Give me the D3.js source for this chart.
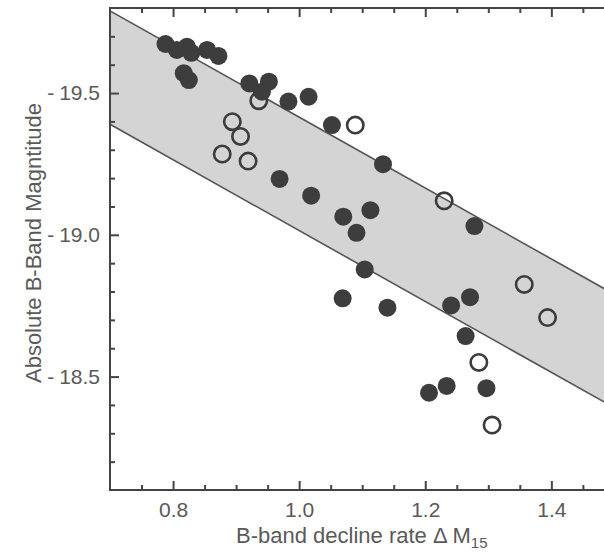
<!DOCTYPE html>
<html>
<head>
<meta charset="utf-8">
<script src="https://cdn.jsdelivr.net/npm/d3@7"></script>
<style>
  html, body { margin: 0; padding: 0; background: #fff; }
  svg { display: block; }
  text { font-family: "Liberation Sans", Arial, Helvetica, sans-serif; }
</style>
</head>
<body>
<script>
// ---- data ----
const filledX = [0.788, 0.806, 0.822, 0.829, 0.854, 0.872, 0.817, 0.825, 0.921, 0.952, 0.941,
                 0.983, 1.015, 1.052, 1.133, 0.969, 1.019, 1.070, 1.113, 1.091, 1.104, 1.069,
                 1.140, 1.278, 1.271, 1.241, 1.264, 1.206, 1.234, 1.297];
const filledY = [-19.673, -19.652, -19.663, -19.642, -19.652, -19.631, -19.570, -19.546, -19.534, -19.540, -19.505,
                 -19.470, -19.487, -19.387, -19.249, -19.197, -19.138, -19.064, -19.087, -19.007, -18.878, -18.776,
                 -18.743, -19.031, -18.780, -18.751, -18.643, -18.443, -18.467, -18.459];
const openX = [0.936, 1.089, 0.894, 0.907, 0.878, 0.919, 1.230, 1.357, 1.394, 1.285, 1.306];
const openY = [-19.473, -19.387, -19.399, -19.347, -19.285, -19.260, -19.120, -18.825, -18.708, -18.550, -18.329];

const bandX = [0.7, 1.5];
const bandUpper = [-19.79, -18.79];
const bandLower = [-19.39, -18.39];

const xMajorTicks = [0.8, 1.0, 1.2, 1.4];
const xTickLabels = ["0.8", "1.0", "1.2", "1.4"];
const xMinorTicks = [0.75, 0.85, 0.9, 0.95, 1.05, 1.1, 1.15, 1.25, 1.3, 1.35, 1.45];
const yMajorTicks = [-19.5, -19.0, -18.5];
const yTickLabels = ["-19.5", "-19.0", "-18.5"];
const yMinorTicks = [-19.7, -19.6, -19.4, -19.3, -19.2, -19.1, -18.9, -18.8, -18.7, -18.6, -18.4, -18.3, -18.2];

const xTitle = "B-band decline rate \u0394 M";
const xTitleSub = "15";
const yTitle = "Absolute B-Band Magntitude";

// ---- layout ----
const W = 604, H = 554;
const x = d3.scaleLinear().domain([0.7, 1.5]).range([110, 614.4]);
const y = d3.scaleLinear().domain([-19.8, -18.1]).range([8, 490]);

const svg = d3.select("body").append("svg").attr("width", W).attr("height", H);

svg.append("defs").append("clipPath").attr("id", "plotclip")
  .append("rect").attr("x", 110).attr("y", 8).attr("width", 504.4).attr("height", 482);

const plot = svg.append("g").attr("clip-path", "url(#plotclip)");

// band
const bandData = bandX.map((v, i) => ({x: v, hi: bandUpper[i], lo: bandLower[i]}));
plot.append("path").datum(bandData)
  .attr("d", d3.area().x(d => x(d.x)).y0(d => y(d.lo)).y1(d => y(d.hi)))
  .attr("fill", "#d4d4d4");
["hi", "lo"].forEach(k => {
  plot.append("path").datum(bandData)
    .attr("d", d3.line().x(d => x(d.x)).y(d => y(d[k])))
    .attr("fill", "none").attr("stroke", "#555").attr("stroke-width", 1.6);
});

// open circles
plot.selectAll("circle.open").data(openX.map((v, i) => [v, openY[i]])).enter()
  .append("circle").attr("class", "open")
  .attr("cx", d => x(d[0])).attr("cy", d => y(d[1])).attr("r", 8.2)
  .attr("fill", "none").attr("stroke", "#3c3c3c").attr("stroke-width", 2.6);

// filled circles
plot.selectAll("circle.filled").data(filledX.map((v, i) => [v, filledY[i]])).enter()
  .append("circle").attr("class", "filled")
  .attr("cx", d => x(d[0])).attr("cy", d => y(d[1])).attr("r", 9)
  .attr("fill", "#3d3d3d");

// ---- axes ----
const axisColor = "#444";
const textColor = "#5a5a5a";
function styleAxis(g) {
  g.select(".domain").remove();
  g.selectAll(".tick line").attr("stroke", axisColor).attr("stroke-width", 2);
  g.selectAll(".tick text").attr("fill", textColor).attr("font-size", 21)
    .attr("font-family", '"Liberation Sans", Arial, sans-serif');
}
// bottom
svg.append("g").attr("transform", "translate(0,490)")
  .call(d3.axisBottom(x).tickValues(xMinorTicks).tickSize(-5).tickFormat(""))
  .call(styleAxis);
svg.append("g").attr("transform", "translate(0,490)")
  .call(d3.axisBottom(x).tickValues(xMajorTicks).tickSize(-9).tickPadding(12)
    .tickFormat((d, i) => xTickLabels[i]))
  .call(styleAxis);
// top
svg.append("g").attr("transform", "translate(0,8)")
  .call(d3.axisTop(x).tickValues(xMinorTicks).tickSize(-5).tickFormat(""))
  .call(styleAxis);
svg.append("g").attr("transform", "translate(0,8)")
  .call(d3.axisTop(x).tickValues(xMajorTicks).tickSize(-9).tickFormat(""))
  .call(styleAxis);
// left
svg.append("g").attr("transform", "translate(110,0)")
  .call(d3.axisLeft(y).tickValues(yMinorTicks).tickSize(-5).tickFormat(""))
  .call(styleAxis);
const yMajorAxis = svg.append("g").attr("transform", "translate(110,0)")
  .call(d3.axisLeft(y).tickValues(yMajorTicks).tickSize(-9).tickPadding(10)
    .tickFormat((d, i) => yTickLabels[i]))
  .call(styleAxis);
// widen the gap after the minus sign, as in the original typesetting
yMajorAxis.selectAll(".tick text").each(function() {
  const t = d3.select(this);
  const s = t.text();
  t.text(null);
  t.append("tspan").text(s.slice(0, 1));
  t.append("tspan").attr("dx", 5).text(s.slice(1));
});
// right
svg.append("g").attr("transform", "translate(614.4,0)")
  .call(d3.axisRight(y).tickValues(yMinorTicks).tickSize(-5).tickFormat(""))
  .call(styleAxis);
svg.append("g").attr("transform", "translate(614.4,0)")
  .call(d3.axisRight(y).tickValues(yMajorTicks).tickSize(-10).tickFormat(""))
  .call(styleAxis);

// frame
svg.append("rect").attr("x", 110).attr("y", 8).attr("width", 504.4).attr("height", 482)
  .attr("fill", "none").attr("stroke", axisColor).attr("stroke-width", 2);

// titles
const xt = svg.append("text").attr("x", 236).attr("y", 543)
  .attr("fill", textColor).attr("font-size", 22).text(xTitle);
xt.append("tspan").attr("font-size", 15).attr("dy", 5).text(xTitleSub);

svg.append("text")
  .attr("transform", "translate(41,243) rotate(-90)")
  .attr("text-anchor", "middle")
  .attr("fill", textColor).attr("font-size", 22).text(yTitle);
</script>
</body>
</html>
